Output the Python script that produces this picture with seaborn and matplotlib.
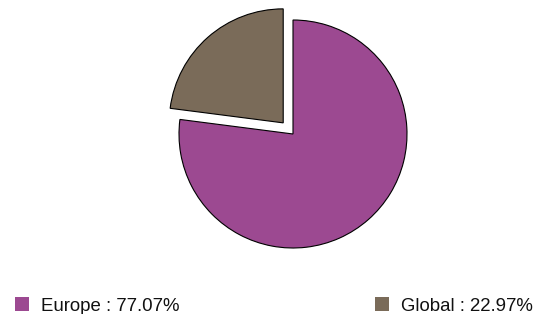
import matplotlib
matplotlib.use('Agg')
import matplotlib.pyplot as plt
import seaborn as sns
from matplotlib.patches import Rectangle

sns.set_theme(style='white')
plt.rcParams['font.family'] = ['Liberation Sans', 'DejaVu Sans']

# data
labels = ['Europe', 'Global']
values = [77.07, 22.97]
colors = ['#9c4991', '#7a6b59']
explode = [0, 0.13]

W, H = 539, 314
fig = plt.figure(figsize=(W / 100, H / 100), dpi=100)

# pie centre (293, 134) px, radius 114 px
r = 114
lim = 1.3
size = 2 * lim * r
ax = fig.add_axes([(293 - size / 2) / W, (H - 134 - size / 2) / H, size / W, size / H])
ax.pie(values, colors=colors, explode=explode, startangle=90, counterclock=False,
       radius=1, wedgeprops=dict(edgecolor='black', linewidth=0.8))
ax.set_xlim(-lim, lim)
ax.set_ylim(-lim, lim)
ax.set_aspect('equal')
ax.axis('off')

# legend entries (square + text), positions in px
legend_x = [15, 375]
for lab, val, col, x in zip(labels, values, colors, legend_x):
    fig.patches.append(Rectangle((x / W, (H - 311) / H), 14 / W, 14 / H,
                                 transform=fig.transFigure, facecolor=col,
                                 edgecolor='none'))
    fig.text((x + 26) / W, (H - 311) / H, f'{lab} : {val:.2f}%',
             fontsize=13.4, color='#111111', va='baseline', ha='left')

fig.savefig('out.png', dpi=100)
